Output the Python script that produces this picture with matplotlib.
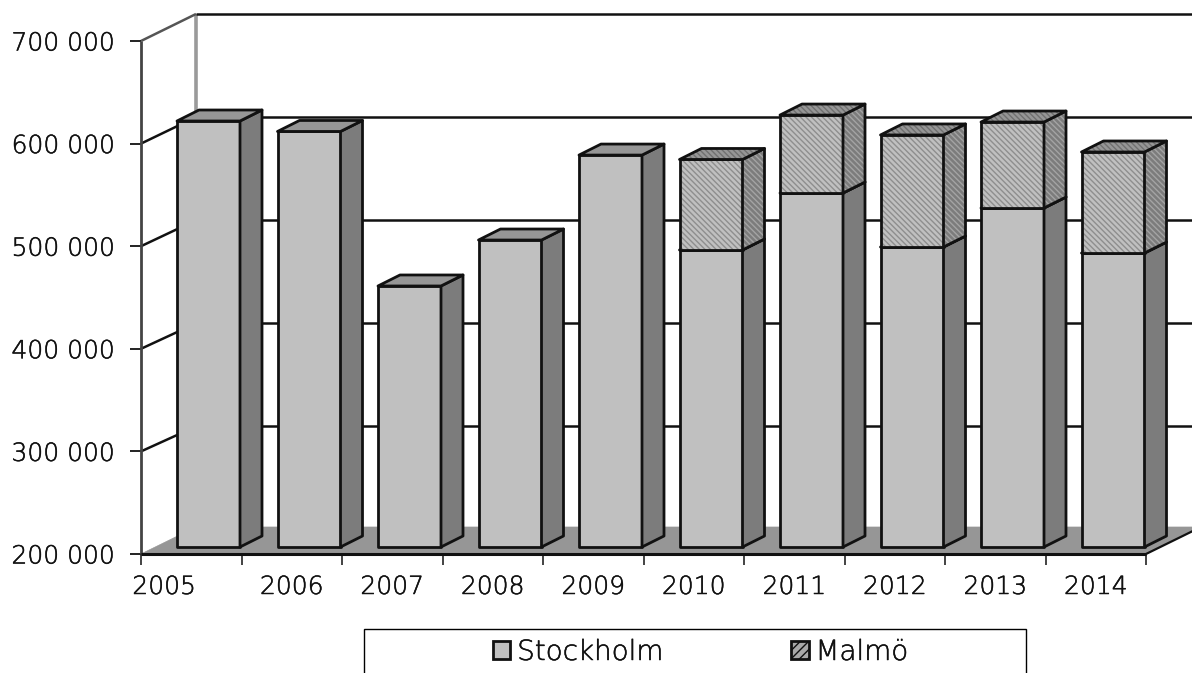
import matplotlib
matplotlib.use("Agg")
import matplotlib.pyplot as plt
from matplotlib.patches import Polygon, Patch, Rectangle
import matplotlib.patheffects as pe

years = ["2005", "2006", "2007", "2008", "2009", "2010", "2011", "2012", "2013", "2014"]
stockholm = [615200, 605000, 454400, 499200, 582000, 489500, 545000, 492400, 530400, 486500]
malmo = [0, 0, 0, 0, 0, 88200, 76000, 109200, 83800, 98500]
yticks = [200000, 300000, 400000, 500000, 600000, 700000]
ylabels = ["200 000", "300 000", "400 000", "500 000", "600 000", "700 000"]

W, H = 1192, 673
plt.rcParams["font.family"] = ["DejaVu Sans"]
plt.rcParams["font.weight"] = 200
plt.rcParams["hatch.linewidth"] = 1.0
fig = plt.figure(figsize=(W / 100, H / 100), dpi=100, facecolor="white")
L, R, T, B = 141, 1146, 41, 554
ax = fig.add_axes([L / W, 1 - B / H, (R - L) / W, (B - T) / H])
ax.set_xlim(0, 10)
ax.set_ylim(200000, 700000)
ax.patch.set_visible(False)
for s in ax.spines.values():
    s.set_visible(False)

pxx = 10 / (R - L)
pxy = 500000 / (B - T)
dx, dy = 55 * pxx, 27 * pxy      # wall depth
bdx, bdy = 22 * pxx, 11 * pxy    # bar depth
fx = 36 * pxx                    # bar front-left offset within its slot
fy = 7 * pxy                     # bar front lift above the floor front edge
bw = 63 * pxx
back_scale = 1.005               # back wall gridlines are spaced slightly wider
INK = "#111111"
thick = [pe.withStroke(linewidth=0.35, foreground="#111111")]


def back_y(v):
    return 700000 + dy - (700000 - v) * back_scale


def poly(pts, fc, z, ec=INK, lw=2.0, hatch=None, hc=None):
    if hatch:
        h = Polygon(pts, closed=True, facecolor=fc, edgecolor=hc, linewidth=0,
                    clip_on=False, zorder=z, hatch=hatch)
        ax.add_patch(h)
        fc = "none"
    p = Polygon(pts, closed=True, facecolor=fc, edgecolor=ec, linewidth=lw,
                clip_on=False, zorder=z, joinstyle="round")
    ax.add_patch(p)


def line(xs, ys, c=INK, lw=1.8, z=2):
    ax.plot(xs, ys, color=c, lw=lw, clip_on=False, zorder=z, solid_capstyle="butt")


# floor
poly([(0, 200000), (10, 200000), (10 + dx, 200000 + dy), (dx, 200000 + dy)], "#969696", 1, ec="#969696", lw=0.5)

# back wall gridlines and left wall diagonals
for v in yticks[1:]:
    line([dx, 10 + dx], [back_y(v), back_y(v)], z=1.5)
    if v < 700000:
        line([0, dx], [v, back_y(v)], z=1.5)
line([0, dx], [700000, 700000 + dy], c="#555555", z=1.5)
line([dx, dx], [200000 + dy, 700000 + dy], c="#9a9a9a", lw=2.6, z=1.4)
line([0, 0], [200000, 700000], c="#444444", lw=2.0, z=1.6)
line([0, 10], [200000, 200000], c=INK, lw=2.2, z=1.7)
line([10, 10 + dx], [200000, 200000 + dy], c=INK, lw=1.6, z=1.7)


def box(x, v0, v1, z, hatched):
    h = "\\\\\\\\\\\\" if hatched else None
    x1 = x + bw
    poly([(x, v0), (x1, v0), (x1, v1), (x, v1)], "#c0c0c0", z, hatch=h, hc="#8e8e8e")
    poly([(x1, v0), (x1 + bdx, v0 + bdy), (x1 + bdx, v1 + bdy), (x1, v1)], "#7c7c7c", z, hatch=h, hc="#a4a4a4")
    poly([(x, v1), (x1, v1), (x1 + bdx, v1 + bdy), (x + bdx, v1 + bdy)], "#969696", z, hatch=h, hc="#707070")


for i, (s, m) in enumerate(zip(stockholm, malmo)):
    x = i + fx
    box(x, 200000 + fy, s + fy, 3 + i * 0.1, False)
    if m:
        box(x, s + fy, s + m + fy, 3.05 + i * 0.1, True)

# ticks and labels
ax.set_yticks(yticks, ylabels, fontsize=18, color="#111111")
for t in ax.get_yticklabels():
    t.set_path_effects(thick)
ax.set_xticks(range(11), [""] * 11)
ax.tick_params(axis="y", length=8, width=1.3, color=INK, pad=10.5)
ax.tick_params(axis="x", length=8, width=1.1, color=INK)
for i, y in enumerate(years):
    cx = i + 0.5 if i else 0.23
    ax.annotate(y, (cx, 200000), xytext=(0, -21), textcoords="offset pixels", ha="center", va="top",
                fontsize=18, color="#111111", annotation_clip=False, path_effects=thick)

# legend frame and legend
fig.add_artist(Rectangle((363.5 / W, -0.02), 662 / W, 1 - 628.5 / H + 0.02, transform=fig.transFigure,
                         facecolor="white", edgecolor="black", linewidth=1.0))
handles = [Patch(facecolor="#c0c0c0", edgecolor=INK, linewidth=2.0),
           Patch(facecolor="#a8a8a8", edgecolor=INK, linewidth=2.0, hatch="////")]
leg = fig.legend(handles, ["Stockholm", "Malmö"], ncols=2, frameon=False, fontsize=20,
                 loc="center left", bbox_to_anchor=(493 / W, 1 - 652 / H), borderpad=0, borderaxespad=0,
                 handlelength=0.62, handleheight=0.62, handletextpad=0.25, columnspacing=4.6,
                 labelcolor="#111111")
for t in leg.get_texts():
    t.set_path_effects(thick)

fig.savefig("out.png", dpi=100)
